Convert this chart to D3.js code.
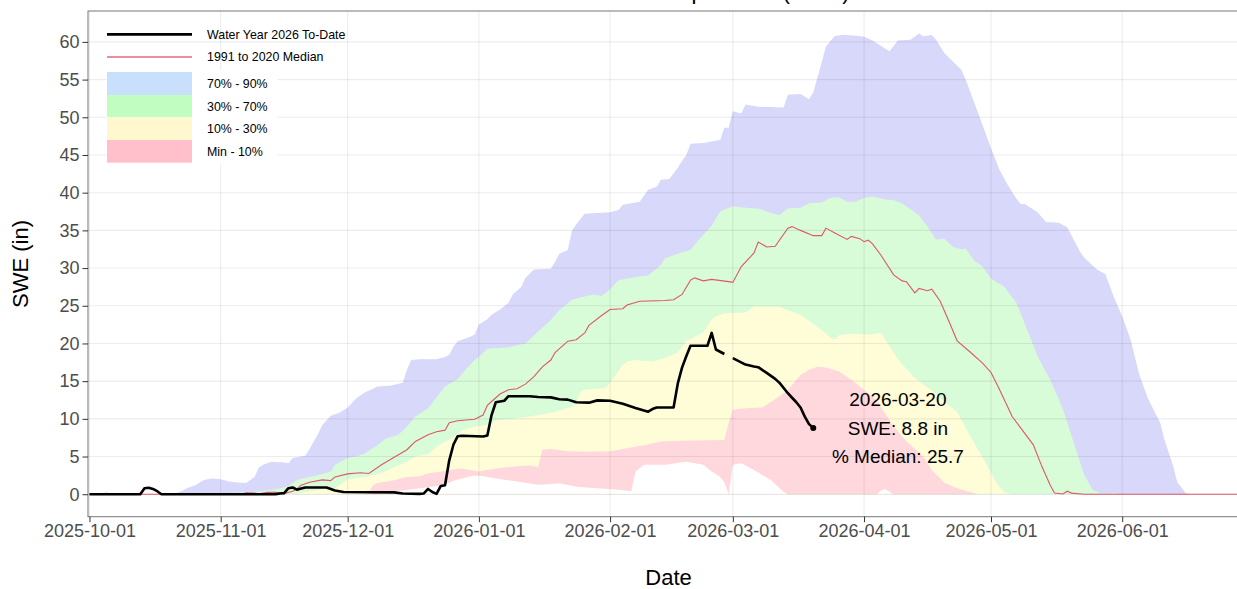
<!DOCTYPE html>
<html><head><meta charset="utf-8">
<script src="https://cdn.jsdelivr.net/npm/d3@7"></script>
<style>
body{margin:0;background:#fff}
svg{display:block}
text{font-family:"Liberation Sans", Arial, Helvetica, sans-serif}
</style>
</head><body>
<svg id="c" width="1237" height="589"></svg>
<script>
// ---------- DATA ----------
const titleText = "Snow Water Equivalent (SWE)";
const xTickLabels = ["2025-10-01","2025-11-01","2025-12-01","2026-01-01","2026-02-01","2026-03-01","2026-04-01","2026-05-01","2026-06-01"];
const yTickValues = [0,5,10,15,20,25,30,35,40,45,50,55,60];

// Water Year 2026 to date (in). null = no data (Feb 29)
const wy2026 = [
["2025-10-01",0],["2025-10-13",0],["2025-10-14",0.8],["2025-10-15",0.85],["2025-10-16",0.7],["2025-10-17",0.4],["2025-10-18",0],
["2025-11-14",0],["2025-11-15",0.1],["2025-11-16",0.15],["2025-11-17",0.8],["2025-11-18",0.9],["2025-11-19",0.6],["2025-11-20",0.75],
["2025-11-21",0.9],["2025-11-26",0.9],["2025-11-28",0.5],["2025-11-30",0.3],["2025-12-12",0.25],["2025-12-14",0.1],["2025-12-18",0.05],
["2025-12-19",0.1],["2025-12-20",0.7],["2025-12-21",0.3],["2025-12-22",0.05],["2025-12-23",1.1],["2025-12-24",1.2],["2025-12-25",4.5],
["2025-12-26",6.6],["2025-12-27",7.7],["2025-12-28",7.75],["2026-01-02",7.65],["2026-01-03",7.8],["2026-01-04",10.5],["2026-01-05",12.2],
["2026-01-06",12.3],["2026-01-07",12.4],["2026-01-08",13.0],["2026-01-13",13.0],["2026-01-15",12.9],["2026-01-18",12.85],["2026-01-20",12.6],
["2026-01-22",12.55],["2026-01-24",12.2],["2026-01-27",12.15],["2026-01-29",12.45],["2026-02-01",12.4],["2026-02-04",12.0],["2026-02-07",11.45],
["2026-02-10",10.95],["2026-02-11",11.3],["2026-02-12",11.5],["2026-02-16",11.5],["2026-02-17",14.7],["2026-02-18",16.8],["2026-02-19",18.3],
["2026-02-20",19.7],["2026-02-24",19.7],["2026-02-25",21.4],["2026-02-26",19.2],["2026-02-28",18.6],["2026-02-29",null],["2026-03-01",18.05],
["2026-03-04",17.2],["2026-03-06",16.95],["2026-03-07",16.85],["2026-03-09",16.1],["2026-03-11",15.3],["2026-03-12",14.8],["2026-03-14",13.4],
["2026-03-15",12.8],["2026-03-16",12.2],["2026-03-17",11.5],["2026-03-18",10.3],["2026-03-19",9.3],["2026-03-20",8.8]
];

// 1991 to 2020 median (in)
const median = [
["2025-10-01",0],["2025-11-06",0],["2025-11-07",0.2],["2025-11-09",0.15],["2025-11-10",0.05],["2025-11-12",0.25],["2025-11-14",0.25],
["2025-11-16",0.1],["2025-11-18",0.4],["2025-11-19",0.7],["2025-11-20",1.2],["2025-11-22",1.6],["2025-11-25",1.9],["2025-11-27",1.8],
["2025-11-28",2.3],["2025-12-01",2.7],["2025-12-04",2.85],["2025-12-06",2.75],["2025-12-09",3.9],["2025-12-12",4.9],["2025-12-15",5.9],
["2025-12-17",7.0],["2025-12-20",7.9],["2025-12-22",8.3],["2025-12-24",8.5],["2025-12-25",9.5],["2025-12-27",9.75],["2025-12-31",9.95],
["2026-01-02",10.5],["2026-01-03",11.8],["2026-01-04",12.3],["2026-01-06",13.3],["2026-01-08",13.85],["2026-01-10",14.0],["2026-01-12",14.6],
["2026-01-14",15.6],["2026-01-16",16.9],["2026-01-18",17.8],["2026-01-19",18.8],["2026-01-22",20.3],["2026-01-24",20.5],["2026-01-26",21.4],
["2026-01-27",22.4],["2026-01-30",23.7],["2026-02-01",24.5],["2026-02-04",24.6],["2026-02-05",25.1],["2026-02-08",25.6],["2026-02-14",25.7],
["2026-02-16",25.8],["2026-02-18",26.5],["2026-02-20",28.4],["2026-02-21",28.7],["2026-02-23",28.3],["2026-02-25",28.5],["2026-02-29",28.2],
["2026-03-01",28.1],["2026-03-03",30.2],["2026-03-06",32.0],["2026-03-07",33.45],["2026-03-09",32.8],["2026-03-11",32.9],["2026-03-14",35.3],
["2026-03-15",35.5],["2026-03-17",35.0],["2026-03-20",34.3],["2026-03-22",34.3],["2026-03-23",35.3],["2026-03-25",34.7],["2026-03-28",33.8],
["2026-03-29",34.2],["2026-03-31",33.9],["2026-04-01",33.5],["2026-04-02",33.7],["2026-04-03",33.2],["2026-04-05",31.7],["2026-04-08",29.1],
["2026-04-10",28.3],["2026-04-11",28.2],["2026-04-13",26.7],["2026-04-14",27.3],["2026-04-16",27.0],["2026-04-17",27.2],["2026-04-19",25.6],
["2026-04-21",23.0],["2026-04-23",20.35],["2026-04-26",18.9],["2026-04-29",17.4],["2026-05-01",16.15],["2026-05-03",13.9],["2026-05-06",10.3],
["2026-05-08",8.8],["2026-05-11",6.55],["2026-05-13",3.7],["2026-05-15",1.2],["2026-05-16",0.15],["2026-05-18",0.03],["2026-05-19",0.4],
["2026-05-20",0.15],["2026-05-23",0],["2026-07-01",0]
];

// 90th percentile (top of 70%-90% band)
const p90 = [
["2025-10-01",0],["2025-10-04",0],["2025-10-05",0.3],["2025-10-06",0],["2025-10-21",0],["2025-10-23",0.5],["2025-10-24",0.8],
["2025-10-26",1.2],["2025-10-28",1.9],["2025-10-30",2.1],["2025-11-01",2.0],["2025-11-03",1.7],["2025-11-05",1.55],["2025-11-07",1.5],
["2025-11-09",2.3],["2025-11-10",3.5],["2025-11-11",3.9],["2025-11-13",4.3],["2025-11-16",4.2],["2025-11-17",4.1],["2025-11-18",4.8],
["2025-11-21",5.1],["2025-11-22",6.0],["2025-11-24",8.0],["2025-11-25",9.2],["2025-11-27",10.4],["2025-11-29",10.8],["2025-12-01",11.5],
["2025-12-03",12.7],["2025-12-05",13.5],["2025-12-07",14.0],["2025-12-08",14.3],["2025-12-11",14.4],["2025-12-14",14.8],["2025-12-15",16.5],
["2025-12-16",17.8],["2025-12-18",17.9],["2025-12-22",17.9],["2025-12-24",18.2],["2025-12-25",18.5],["2025-12-26",19.6],["2025-12-27",20.3],
["2025-12-30",20.9],["2025-12-31",21.2],["2026-01-01",22.5],["2026-01-03",23.2],["2026-01-04",23.8],["2026-01-06",24.5],["2026-01-08",25.4],
["2026-01-09",26.5],["2026-01-11",27.5],["2026-01-12",28.7],["2026-01-14",29.8],["2026-01-18",29.9],["2026-01-19",30.8],["2026-01-20",31.9],
["2026-01-22",32.4],["2026-01-23",35.0],["2026-01-24",35.8],["2026-01-26",37.2],["2026-01-29",37.3],["2026-02-01",37.4],["2026-02-03",37.7],
["2026-02-04",38.4],["2026-02-08",38.8],["2026-02-10",40.4],["2026-02-12",40.8],["2026-02-13",41.7],["2026-02-15",41.8],["2026-02-17",43.3],
["2026-02-18",44.2],["2026-02-19",45.0],["2026-02-20",46.5],["2026-02-23",46.6],["2026-02-27",47.0],["2026-02-28",48.6],["2026-02-29",48.6],
["2026-03-01",50.8],["2026-03-03",50.5],["2026-03-04",51.7],["2026-03-07",51.4],["2026-03-13",51.3],["2026-03-14",53.0],["2026-03-17",53.1],
["2026-03-19",52.4],["2026-03-20",53.3],["2026-03-21",55.3],["2026-03-22",57.3],["2026-03-23",59.4],["2026-03-25",60.75],["2026-03-27",60.95],
["2026-03-31",60.8],["2026-04-01",60.7],["2026-04-03",60.2],["2026-04-07",58.75],["2026-04-09",60.2],["2026-04-12",60.3],["2026-04-14",61.1],
["2026-04-15",60.75],["2026-04-17",60.9],["2026-04-18",60.3],["2026-04-20",58.5],["2026-04-22",57.4],["2026-04-24",56.3],["2026-04-25",55.0],
["2026-04-28",50.5],["2026-05-01",45.9],["2026-05-03",43.05],["2026-05-05",41.0],["2026-05-07",39.2],["2026-05-08",38.5],["2026-05-09",38.5],
["2026-05-12",37.4],["2026-05-14",36.1],["2026-05-17",36.0],["2026-05-19",35.4],["2026-05-22",32.2],["2026-05-23",31.4],["2026-05-26",29.8],
["2026-05-28",29.2],["2026-05-30",26.2],["2026-06-01",23.6],["2026-06-03",20.5],["2026-06-05",15.9],["2026-06-07",12.8],["2026-06-10",9.4],
["2026-06-11",7.2],["2026-06-13",3.8],["2026-06-14",1.6],["2026-06-16",0.15],["2026-06-17",0],["2026-07-01",0]
];

// 70th percentile (top of 30%-70% band)
const p70 = [
["2025-10-01",0],["2025-10-31",0],["2025-11-04",0.15],["2025-11-08",0.3],["2025-11-12",0.5],["2025-11-14",0.65],["2025-11-16",0.9],
["2025-11-17",1.1],["2025-11-19",1.9],["2025-11-22",2.3],["2025-11-25",2.7],["2025-11-27",3.0],["2025-11-28",3.9],["2025-12-01",4.8],
["2025-12-03",5.0],["2025-12-05",5.4],["2025-12-08",6.5],["2025-12-10",7.4],["2025-12-13",7.9],["2025-12-15",9.0],["2025-12-17",10.3],
["2025-12-20",11.4],["2025-12-23",13.6],["2025-12-24",14.3],["2025-12-27",15.3],["2025-12-29",16.6],["2025-12-31",17.8],["2026-01-01",18.2],
["2026-01-03",19.3],["2026-01-08",19.5],["2026-01-12",20.0],["2026-01-15",21.6],["2026-01-18",23.1],["2026-01-20",24.4],["2026-01-23",25.8],
["2026-01-25",26.1],["2026-01-28",26.5],["2026-01-30",26.3],["2026-02-01",27.2],["2026-02-03",28.4],["2026-02-07",28.8],["2026-02-10",29.0],
["2026-02-13",30.4],["2026-02-14",31.3],["2026-02-18",32.1],["2026-02-20",32.4],["2026-02-22",33.8],["2026-02-25",35.6],["2026-02-27",37.5],
["2026-03-01",38.2],["2026-03-04",38.0],["2026-03-07",37.9],["2026-03-10",37.3],["2026-03-12",37.0],["2026-03-14",37.9],["2026-03-17",38.0],
["2026-03-19",38.6],["2026-03-22",38.7],["2026-03-24",39.3],["2026-03-26",39.4],["2026-03-28",38.8],["2026-03-30",38.8],["2026-04-01",39.3],
["2026-04-03",39.5],["2026-04-06",39.1],["2026-04-08",39.0],["2026-04-10",38.6],["2026-04-12",37.8],["2026-04-14",37.0],["2026-04-15",36.2],
["2026-04-16",35.5],["2026-04-18",33.8],["2026-04-20",33.9],["2026-04-22",32.8],["2026-04-24",32.5],["2026-04-25",32.6],["2026-04-27",31.0],
["2026-04-29",30.2],["2026-05-01",28.6],["2026-05-04",27.6],["2026-05-07",25.4],["2026-05-09",22.6],["2026-05-12",18.3],["2026-05-15",15.2],
["2026-05-18",11.3],["2026-05-20",7.8],["2026-05-23",2.6],["2026-05-25",0.6],["2026-05-27",0.1],["2026-05-29",0.1],["2026-05-30",0.2],
["2026-06-01",0],["2026-07-01",0]
];

// 30th percentile (top of 10%-30% band)
const p30 = [
["2025-10-01",0],["2025-11-14",0],["2025-11-19",0.1],["2025-11-22",0.4],["2025-11-25",0.65],["2025-11-28",0.8],["2025-11-30",1.6],
["2025-12-01",2.0],["2025-12-05",2.3],["2025-12-09",2.8],["2025-12-12",3.6],["2025-12-15",4.3],["2025-12-17",5.0],["2025-12-20",5.3],
["2025-12-22",6.3],["2025-12-24",7.0],["2025-12-26",7.6],["2025-12-28",8.5],["2025-12-31",9.0],["2026-01-03",9.2],["2026-01-05",9.8],
["2026-01-09",10.0],["2026-01-14",10.4],["2026-01-19",10.9],["2026-01-21",11.3],["2026-01-23",11.6],["2026-01-24",12.1],["2026-01-25",13.6],
["2026-01-26",13.85],["2026-01-31",14.1],["2026-02-02",15.6],["2026-02-04",17.2],["2026-02-05",17.6],["2026-02-07",17.8],["2026-02-11",17.6],
["2026-02-14",18.1],["2026-02-17",18.8],["2026-02-19",20.4],["2026-02-20",20.6],["2026-02-23",21.5],["2026-02-25",23.2],["2026-02-26",23.6],
["2026-02-28",24.0],["2026-03-04",24.1],["2026-03-06",24.9],["2026-03-12",24.9],["2026-03-14",24.4],["2026-03-17",23.8],["2026-03-20",22.6],
["2026-03-22",21.8],["2026-03-24",20.8],["2026-03-25",20.5],["2026-03-26",21.1],["2026-03-29",21.3],["2026-04-02",21.2],["2026-04-05",21.4],
["2026-04-07",19.7],["2026-04-09",17.9],["2026-04-12",16.0],["2026-04-13",15.4],["2026-04-17",13.8],["2026-04-20",12.3],["2026-04-23",10.9],
["2026-04-26",7.8],["2026-04-29",4.9],["2026-05-02",1.8],["2026-05-04",0.3],["2026-05-06",0],["2026-07-01",0]
];

// 10th percentile (top of Min-10% band)
const p10 = [
["2025-10-01",0],["2025-12-05",0],["2025-12-06",0.3],["2025-12-07",1.2],["2025-12-08",1.5],["2025-12-12",1.85],["2025-12-15",2.3],
["2025-12-18",2.4],["2025-12-20",2.8],["2025-12-23",3.0],["2025-12-25",3.2],["2025-12-28",3.4],["2026-01-01",3.0],["2026-01-05",3.4],
["2026-01-10",3.7],["2026-01-13",3.8],["2026-01-15",3.6],["2026-01-16",5.9],["2026-01-18",6.0],["2026-01-22",5.7],["2026-01-26",5.65],
["2026-02-01",5.7],["2026-02-05",6.1],["2026-02-09",6.5],["2026-02-13",7.0],["2026-02-18",7.1],["2026-02-28",7.2],["2026-02-29",9.4],
["2026-03-01",11.2],["2026-03-04",11.4],["2026-03-08",11.5],["2026-03-12",13.0],["2026-03-14",13.8],["2026-03-17",15.8],["2026-03-19",16.5],
["2026-03-21",16.9],["2026-03-23",16.8],["2026-03-26",16.3],["2026-03-29",15.2],["2026-03-31",14.3],["2026-04-02",13.4],["2026-04-04",12.4],
["2026-04-08",9.0],["2026-04-11",7.0],["2026-04-15",5.0],["2026-04-17",3.2],["2026-04-20",1.5],["2026-04-23",0.8],["2026-04-26",0.3],
["2026-04-28",0],["2026-07-01",0]
];

// Minimum (bottom of Min-10% band)
const pMin = [
["2025-10-01",0],["2025-12-08",0],["2025-12-10",0.35],["2025-12-14",0.5],["2025-12-18",0.8],["2025-12-22",1.1],["2025-12-24",1.3],
["2025-12-26",1.8],["2025-12-28",2.1],["2025-12-31",2.5],["2026-01-02",2.4],["2026-01-05",2.1],["2026-01-10",1.7],["2026-01-15",1.25],
["2026-01-18",1.35],["2026-01-20",1.45],["2026-01-24",1.0],["2026-01-29",0.8],["2026-02-03",0.6],["2026-02-06",0.4],["2026-02-07",3.0],
["2026-02-09",3.9],["2026-02-14",3.9],["2026-02-19",4.3],["2026-02-23",3.9],["2026-02-25",3.0],["2026-02-27",2.3],["2026-02-28",1.6],
["2026-02-29",0],["2026-03-01",3.9],["2026-03-03",4.1],["2026-03-06",3.2],["2026-03-10",1.9],["2026-03-13",0.3],["2026-03-14",0],
["2026-04-04",0],["2026-04-05",0.5],["2026-04-06",0.7],["2026-04-07",0.3],["2026-04-08",0],["2026-07-01",0]
];

const bandLabels = ["70% - 90%","30% - 70%","10% - 30%","Min - 10%"];
const lineLabels = ["Water Year 2026 To-Date","1991 to 2020 Median"];

// ---------- CHART ----------
// The plot's date axis runs on a leap-year calendar (Feb 29 is present), so map
// each date onto a reference leap water year.
function toRef(s){
  const [yy,mm,dd] = s.split("-").map(Number);
  return new Date(Date.UTC(mm >= 10 ? 2023 : 2024, mm-1, dd));
}

const svg = d3.select("#c");
const P = {left: 88, right: 1249.2, top: 11, bottom: 516.7};

const x = d3.scaleUtc()
  .domain([new Date(Date.UTC(2023,8,30,15,36)), new Date(Date.UTC(2024,6,1))])
  .range([P.left, P.right]);
const y = d3.scaleLinear().domain([-2.98, 64.1]).range([P.bottom, P.top]);

svg.append("defs").append("clipPath").attr("id","clip")
  .append("rect").attr("x",P.left).attr("y",P.top).attr("width",P.right-P.left).attr("height",P.bottom-P.top);

const g = svg.append("g").attr("clip-path","url(#clip)");

const area = d3.area().x(d => x(toRef(d[0]))).y0(y(0)).y1(d => y(d[1]));
const bands = [
  {data: p90, fill: "#d8d8fb"},
  {data: p70, fill: "#d8fbd8"},
  {data: p30, fill: "#fffcd8"},
  {data: p10, fill: "#ffd8dd"},
  {data: pMin, fill: "#ffffff"}
];
bands.forEach(b => g.append("path").attr("d", area(b.data)).attr("fill", b.fill));

// gridlines (drawn translucent on top so they show through the bands)
const grid = g.append("g").attr("stroke","rgba(0,0,0,0.075)").attr("stroke-width",1.1);
yTickValues.forEach(v => grid.append("line").attr("x1",P.left).attr("x2",P.right).attr("y1",y(v)).attr("y2",y(v)));
xTickLabels.forEach(s => grid.append("line").attr("x1",x(toRef(s))).attr("x2",x(toRef(s))).attr("y1",P.top).attr("y2",P.bottom));

// median line
const line = d3.line().defined(d => d[1] !== null).x(d => x(toRef(d[0]))).y(d => y(d[1]));
g.append("path").attr("d", line(median)).attr("fill","none").attr("stroke","#e0566b").attr("stroke-width",1.1);

// water year line
g.append("path").attr("d", line(wy2026)).attr("fill","none").attr("stroke","#000")
  .attr("stroke-width",2.6).attr("stroke-linejoin","round").attr("stroke-linecap","butt");

const last = wy2026[wy2026.length-1];
g.append("circle").attr("cx", x(toRef(last[0]))).attr("cy", y(last[1])).attr("r", 3).attr("fill","#000");

// annotation
const medAtLast = median.find(d => d[0] === last[0])[1];
const annX = x(d3.utcDay.offset(toRef(last[0]), 20));
const annY = y(last[1]);
const ann = svg.append("g").attr("font-size","19px").attr("fill","#000").attr("text-anchor","middle");
[last[0], "SWE: " + last[1].toFixed(1) + " in", "% Median: " + (100*last[1]/medAtLast).toFixed(1)]
  .forEach((t,i) => ann.append("text").attr("x", annX).attr("y", annY + (i-1)*28.3).attr("dy","0.35em").text(t));

// panel border
svg.append("rect").attr("x",P.left).attr("y",P.top).attr("width",P.right-P.left).attr("height",P.bottom-P.top)
  .attr("fill","none").attr("stroke","#777").attr("stroke-width",1);

// axes
const xAxis = d3.axisBottom(x).tickValues(xTickLabels.map(toRef)).tickFormat((d,i) => xTickLabels[i]).tickSize(5.5).tickPadding(2.5);
const gx = svg.append("g").attr("transform",`translate(0,${P.bottom})`).call(xAxis);
const yAxis = d3.axisLeft(y).tickValues(yTickValues).tickSize(5.5).tickPadding(3);
const gy = svg.append("g").attr("transform",`translate(${P.left},0)`).call(yAxis);
[gx, gy].forEach(a => {
  a.select(".domain").remove();
  a.selectAll(".tick line").attr("stroke","#333");
  a.selectAll(".tick text").attr("fill","#4d4d4d").attr("font-size","18px").attr("font-family",'"Liberation Sans", Arial, sans-serif');
});

// axis titles
svg.append("text").attr("x", (P.left+P.right)/2).attr("y", 585).attr("text-anchor","middle").attr("font-size","22px").attr("fill","#000").text("Date");
svg.append("text").attr("transform","translate(28,264) rotate(-90)").attr("text-anchor","middle").attr("font-size","22px").attr("fill","#000").text("SWE (in)");

// title (mostly above the visible area)
svg.append("text").attr("x", 850).attr("y", -1).attr("text-anchor","end").attr("font-size","23px").attr("fill","#000").text(titleText);

// legend
const lg = svg.append("g");
const keyX0 = 107, keyX1 = 192, textX = 207;
lg.append("line").attr("x1",keyX0).attr("x2",keyX1).attr("y1",34.3).attr("y2",34.3).attr("stroke","#000").attr("stroke-width",2.8);
lg.append("line").attr("x1",keyX0).attr("x2",keyX1).attr("y1",57).attr("y2",57).attr("stroke","#ee8d9b").attr("stroke-width",2);
lineLabels.forEach((t,i) => lg.append("text").attr("x",textX).attr("y",[34.3,57][i]).attr("dy","0.35em").attr("font-size","12.4px").attr("fill","#000").text(t));
lg.append("rect").attr("x",106.5).attr("y",70).attr("width",171).attr("height",94).attr("fill","#fff");
const keyFills = ["#c8e0fc","#c1fdc1","#fff8cf","#ffc0cb"];
const keyTops = [72, 95, 117.3, 140];
keyFills.forEach((f,i) => {
  lg.append("rect").attr("x",keyX0).attr("y",keyTops[i]).attr("width",keyX1-keyX0).attr("height",(i<3?keyTops[i+1]:162.7)-keyTops[i]).attr("fill",f);
  lg.append("text").attr("x",textX).attr("y",[84,106.7,129,151.7][i]).attr("dy","0.35em").attr("font-size","12.4px").attr("fill","#000").text(bandLabels[i]);
});
</script>
</body></html>
